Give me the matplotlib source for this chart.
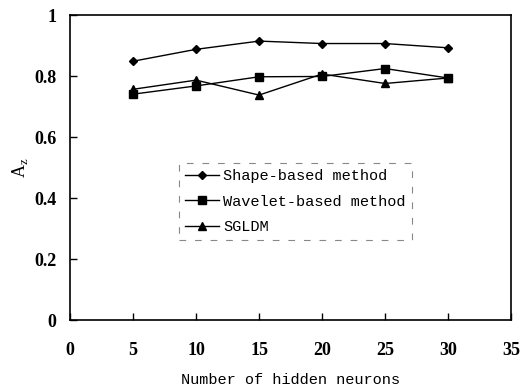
import matplotlib
matplotlib.use('Agg')
import matplotlib.pyplot as plt

neurony = [5, 10, 15, 20, 25, 30]
shape_az = [0.849, 0.888, 0.915, 0.907, 0.907, 0.893]
wavelet_az = [0.741, 0.768, 0.798, 0.799, 0.825, 0.794]
sgldm_az = [0.757, 0.787, 0.738, 0.807, 0.776, 0.794]

x_ticks = [0, 5, 10, 15, 20, 25, 30, 35]
y_ticks = [0, 0.2, 0.4, 0.6, 0.8, 1]
y_labels = ['0', '0.2', '0.4', '0.6', '0.8', '1']

fig = plt.figure(figsize=(5.23, 3.89), dpi=100, facecolor='w')
ax = fig.add_axes([0.134, 0.177, 0.843, 0.784])

ax.plot(neurony, shape_az, 'k-', marker='D', markersize=4.5, lw=1, label='Shape-based method')
ax.plot(neurony, wavelet_az, 'k-', marker='s', markersize=5.5, lw=1, label='Wavelet-based method')
ax.plot(neurony, sgldm_az, 'k-', marker='^', markersize=6, lw=1, label='SGLDM')

ax.set_xlim(0, 35)
ax.set_ylim(0, 1)
ax.set_xticks(x_ticks)
ax.set_yticks(y_ticks)
ax.set_yticklabels(y_labels)
for lab in ax.get_xticklabels() + ax.get_yticklabels():
    lab.set_fontfamily('Liberation Serif')
    lab.set_fontweight('bold')
    lab.set_fontsize(13)
ax.tick_params(direction='in', length=5, width=1)
ax.tick_params(axis='x', pad=16)
ax.tick_params(axis='y', pad=10)
for s in ax.spines.values():
    s.set_linewidth(1.2)

ax.set_xlabel('Number of hidden neurons', fontfamily='Liberation Mono', fontsize=11, labelpad=10)
ax.set_ylabel(r'A$_\mathregular{z}$', fontfamily='Liberation Serif', fontsize=13, labelpad=3)

leg = ax.legend(loc='lower left', bbox_to_anchor=(0.23, 0.237), prop={'family': 'Liberation Mono', 'size': 11},
                handlelength=2.2, handletextpad=0.3, labelspacing=0.75, borderpad=0.4,
                fancybox=False, framealpha=1)
leg.get_frame().set_edgecolor('#888888')
leg.get_frame().set_linestyle((0, (6, 8)))
leg.get_frame().set_linewidth(0.8)

plt.savefig('out.png', dpi=100)
